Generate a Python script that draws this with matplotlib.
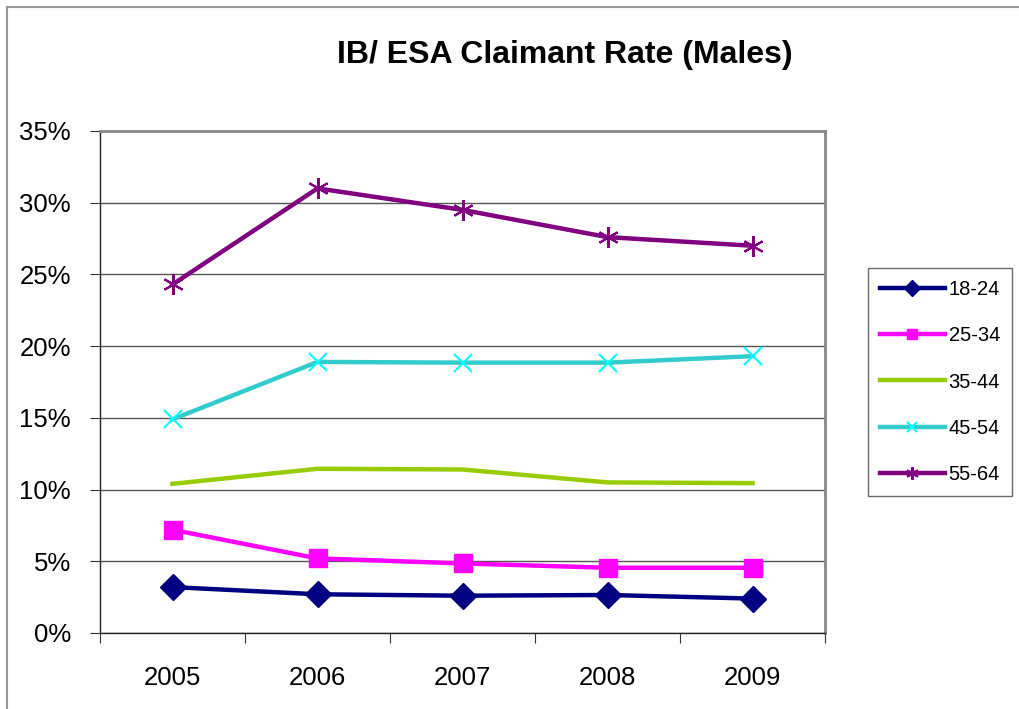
import matplotlib.pyplot as plt
from matplotlib.lines import Line2D
from matplotlib.ticker import FuncFormatter, MultipleLocator

plt.rcParams['font.family'] = ['Liberation Sans', 'DejaVu Sans']

years = ["2005", "2006", "2007", "2008", "2009"]
age_groups = ["18-24", "25-34", "35-44", "45-54", "55-64"]

rate_18_24 = [3.2, 2.7, 2.6, 2.65, 2.4]
rate_25_34 = [7.2, 5.2, 4.85, 4.55, 4.55]
rate_35_44 = [10.4, 11.45, 11.4, 10.5, 10.45]
rate_45_54 = [14.9, 18.9, 18.85, 18.85, 19.3]
rate_55_64 = [24.3, 31.0, 29.5, 27.6, 27.0]

series = [rate_18_24, rate_25_34, rate_35_44, rate_45_54, rate_55_64]

styles = [
    dict(color="#000080", marker="D", markersize=13, markerfacecolor="#000080", markeredgecolor="#000080"),
    dict(color="#FF00FF", marker="s", markersize=13, markerfacecolor="#FF00FF", markeredgecolor="#FF00FF"),
    dict(color="#99CC00", marker=None),
    dict(color="#33CCCC", marker="x", markersize=13, markeredgecolor="#00FFFF", markeredgewidth=1.5),
    dict(color="#800080", marker=(6, 2, 0), markersize=15, markeredgecolor="#800080", markeredgewidth=1.5),
]

W, H = 1019, 709
fig = plt.figure(figsize=(W / 100, H / 100), dpi=100)
ax = fig.add_axes([100 / W, 1 - 633 / H, 725 / W, 502 / H])

x = list(range(len(years)))
for name, vals, st in zip(age_groups, series, styles):
    ax.plot(x, vals, linewidth=3.2, label=name, **st)

ax.set_xlim(-0.5, len(years) - 0.5)
ax.set_ylim(0, 35)
ax.yaxis.set_major_locator(MultipleLocator(5))
ax.yaxis.set_major_formatter(FuncFormatter(lambda v, p: f"{v:.0f}%"))
ax.grid(axis="y", color="#555555", linewidth=1)
ax.set_axisbelow(True)

ax.set_xticks([i - 0.5 for i in range(len(years) + 1)])
ax.set_xticklabels([])
ax.set_xticks(x, minor=True)
ax.set_xticklabels(years, minor=True)
ax.tick_params(axis="x", which="major", length=7, color="#333333", direction="out")
ax.tick_params(axis="x", which="minor", length=0, pad=24, labelsize=18.5)
ax.tick_params(axis="y", length=7, color="#333333", labelsize=18.5, pad=14)

for s in ["top", "right"]:
    ax.spines[s].set_color("#888888")
    ax.spines[s].set_linewidth(2)
for s in ["left", "bottom"]:
    ax.spines[s].set_color("#222222")
    ax.spines[s].set_linewidth(1)

fig.text(565 / W, 1 - 55 / H, "IB/ ESA Claimant Rate (Males)", ha="center", va="center",
         fontsize=23, fontweight="bold")

leg = fig.legend(loc="center left", bbox_to_anchor=(868 / W, 1 - 382 / H), fontsize=14.5,
                 frameon=True, fancybox=False, edgecolor="#444444", handlelength=3.2,
                 markerscale=0.6, labelspacing=1.35, borderpad=0.6, handletextpad=0.2,
                 borderaxespad=0)
leg.get_frame().set_linewidth(1)

# outer chart border (left and top visible)
fig.add_artist(Line2D([7 / W, 7 / W], [0, 1 - 7 / H], color="#999999", linewidth=1.5))
fig.add_artist(Line2D([7 / W, 1], [1 - 7 / H, 1 - 7 / H], color="#999999", linewidth=1.5))

plt.savefig("out.png", dpi=100)
